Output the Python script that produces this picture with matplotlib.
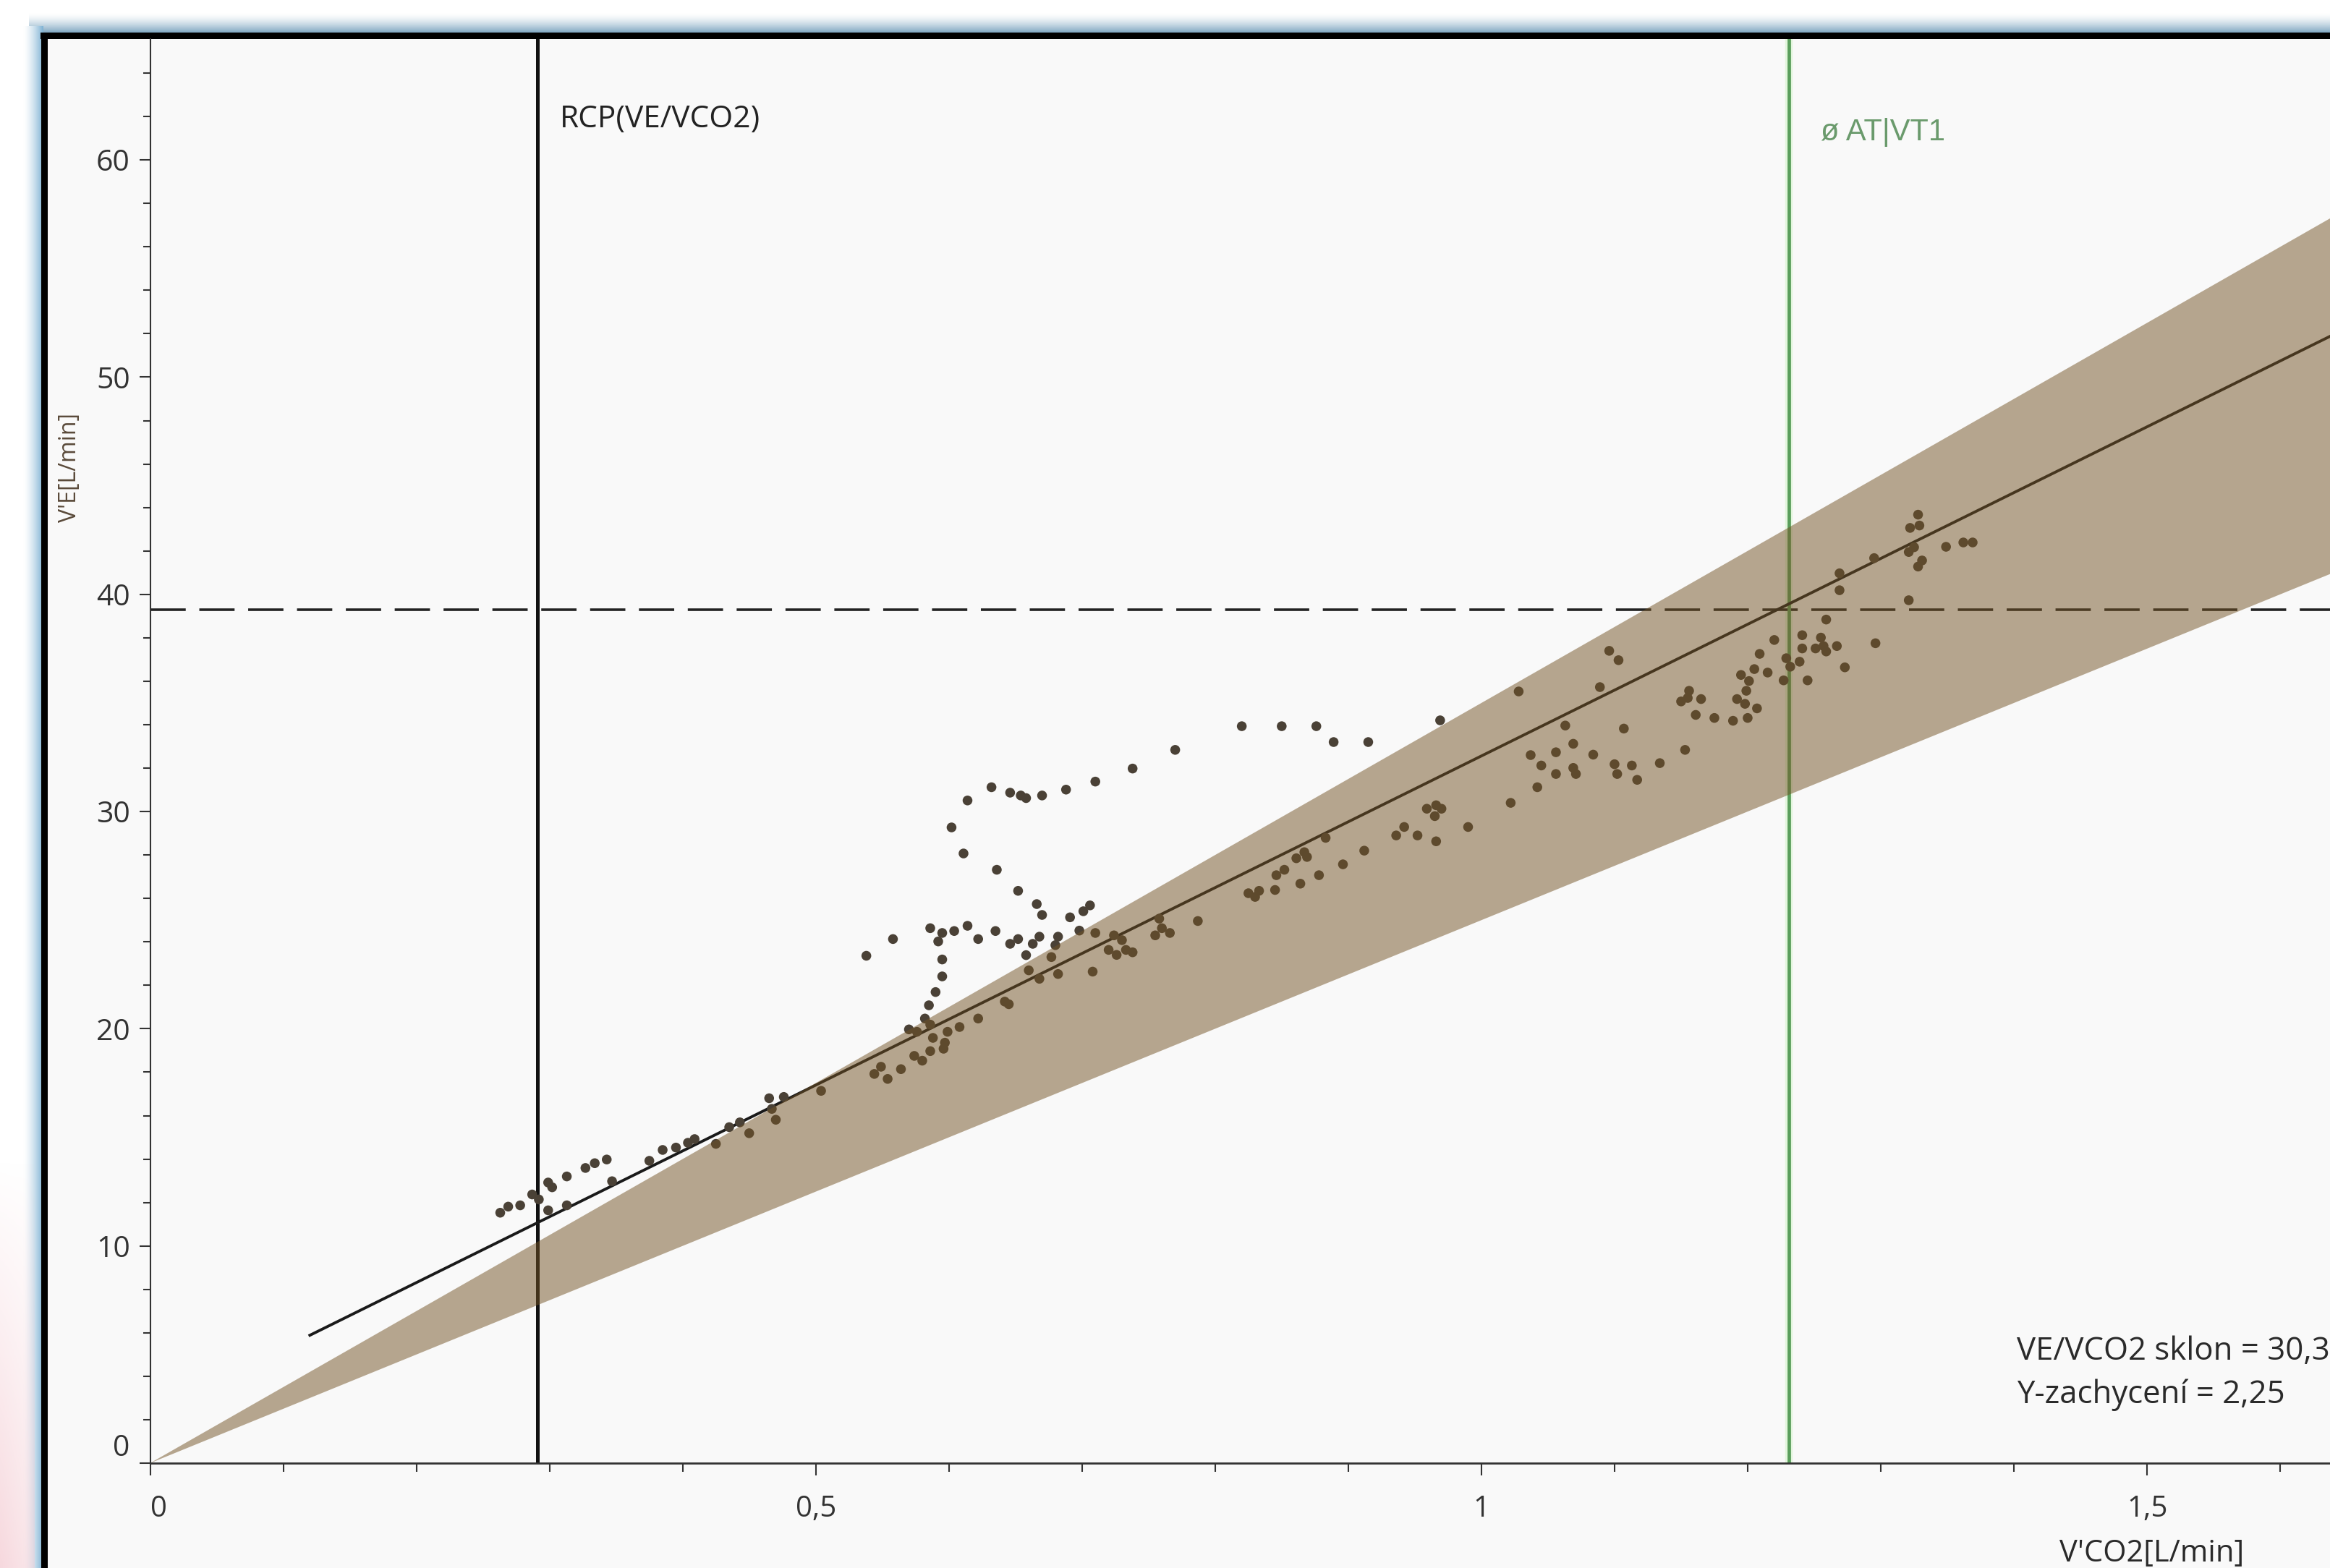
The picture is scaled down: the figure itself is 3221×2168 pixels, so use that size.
import numpy as np
import matplotlib
matplotlib.use("Agg")
import matplotlib.pyplot as plt
from matplotlib.patches import Rectangle
from matplotlib.ticker import FixedLocator, FixedFormatter, MultipleLocator

# breath samples: V'CO2 [L/min] and V'E [L/min]
vco2 = [
    0.263, 0.269, 0.278, 0.287, 0.292, 0.299, 0.302, 0.299, 0.313, 0.313,
    0.327, 0.334, 0.343, 0.347, 0.375, 0.385, 0.395, 0.404, 0.409, 0.425,
    0.435, 0.443, 0.450, 0.465, 0.476, 0.467, 0.470, 0.504,
    0.538, 0.558, 0.586, 0.595, 0.604, 0.592, 0.614, 0.622, 0.635, 0.646,
    0.652, 0.658, 0.666, 0.670, 0.663, 0.668, 0.682, 0.680, 0.691, 0.701,
    0.706, 0.698, 0.710, 0.677, 0.660, 0.668, 0.682, 0.708, 0.724, 0.720,
    0.726, 0.733, 0.738, 0.730, 0.755, 0.758, 0.760, 0.766, 0.787,
    0.614, 0.632, 0.646, 0.654, 0.658, 0.670, 0.688, 0.710, 0.738, 0.602,
    0.611, 0.636, 0.652,
    0.595, 0.595, 0.590, 0.585, 0.582,
    0.570, 0.576, 0.586, 0.588, 0.599, 0.608, 0.597, 0.586, 0.596, 0.574,
    0.580, 0.564, 0.549, 0.544, 0.554, 0.622, 0.642, 0.645,
    0.770, 0.820, 0.850, 0.876, 0.889, 0.915, 0.969, 1.028,
    0.825, 0.833, 0.830, 0.845, 0.846, 0.852, 0.864, 0.861, 0.867, 0.869,
    0.878, 0.883, 0.896, 0.912, 0.936, 0.942, 0.952, 0.959, 0.966, 0.970,
    0.965, 0.966, 0.990, 1.022, 1.037,
    1.042, 1.045, 1.056, 1.056, 1.063, 1.069, 1.069, 1.071, 1.084, 1.089,
    1.096, 1.103, 1.100, 1.102, 1.107, 1.113, 1.117, 1.134, 1.153, 1.150,
    1.156, 1.155, 1.165, 1.161, 1.175, 1.189, 1.200, 1.192, 1.198, 1.207,
    1.199, 1.201, 1.195, 1.205, 1.215, 1.209, 1.220, 1.227, 1.229, 1.232,
    1.239, 1.241, 1.241, 1.245, 1.251, 1.255, 1.257, 1.259, 1.259, 1.267,
    1.273, 1.269, 1.269,
    1.295, 1.296, 1.321, 1.322, 1.328, 1.329, 1.321, 1.325, 1.331, 1.328,
    1.349, 1.362, 1.369,
]
ve = [
    11.53, 11.81, 11.87, 12.37, 12.14, 12.92, 12.70, 11.64, 11.87, 13.20,
    13.59, 13.81, 13.98, 12.98, 13.92, 14.42, 14.53, 14.75, 14.92, 14.70,
    15.47, 15.69, 15.19, 16.80, 16.86, 16.31, 15.81, 17.14,
    23.36, 24.13, 24.63, 24.41, 24.50, 24.02, 24.74, 24.13, 24.50, 23.91,
    24.13, 23.39, 25.74, 25.24, 23.91, 24.24, 24.24, 23.85, 25.13, 25.41,
    25.68, 24.52, 24.41, 23.30, 22.69, 22.30, 22.52, 22.63, 24.30, 23.63,
    23.40, 23.63, 23.52, 24.08, 24.30, 25.07, 24.63, 24.41, 24.96,
    30.51, 31.12, 30.87, 30.74, 30.62, 30.74, 31.01, 31.38, 31.98, 29.27,
    28.07, 27.32, 26.35,
    23.19, 22.41, 21.69, 21.08, 20.47,
    19.97, 19.86, 20.19, 19.58, 19.86, 20.08, 19.36, 18.97, 19.08, 18.75,
    18.53, 18.14, 18.25, 17.92, 17.69, 20.47, 21.25, 21.13,
    32.84, 33.93, 33.93, 33.93, 33.20, 33.20, 34.20, 35.53,
    26.24, 26.35, 26.07, 26.39, 27.07, 27.32, 26.68, 27.85, 28.13, 27.91,
    27.07, 28.79, 27.57, 28.20, 28.90, 29.29, 28.90, 30.13, 30.29, 30.13,
    29.79, 28.63, 29.29, 30.40, 32.60,
    31.12, 32.12, 32.73, 31.73, 33.96, 33.12, 32.01, 31.73, 32.62, 35.73,
    37.40, 36.97, 32.18, 31.73, 33.82, 32.12, 31.46, 32.23, 32.84, 35.07,
    35.56, 35.23, 35.18, 34.45, 34.31, 34.18, 34.31, 35.18, 34.96, 34.75,
    35.56, 36.01, 36.29, 36.56, 36.40, 37.26, 37.90, 36.04, 37.06, 36.67,
    36.90, 37.51, 38.12, 36.04, 37.51, 38.01, 37.62, 37.37, 38.84, 37.62,
    36.64, 40.97, 40.19,
    41.67, 37.75, 39.73, 43.06, 43.67, 43.17, 41.95, 42.17, 41.56, 41.28,
    42.19, 42.39, 42.39,
]

fit_slope = 30.31
fit_intercept = 2.25
fit_start = 0.12
band_slopes = [25.0, 35.0]
rcp_x = 0.291
at_x = 1.231
ve_at = 39.3

x_ticks = [0, 0.5, 1, 1.5]
x_tick_labels = ["0", "0,5", "1", "1,5"]
y_ticks = [0, 10, 20, 30, 40, 50, 60]

W, H = 3221, 2168
plt.rcParams['font.family'] = ['Open Sans', 'DejaVu Sans']
fig = plt.figure(figsize=(W / 100, H / 100), dpi=100)
fig.patch.set_facecolor('white')

# window frame behind the chart, drawn in pixel units
frame = fig.add_axes([0, 0, 1, 1], zorder=-10)
frame.set_xlim(0, W)
frame.set_ylim(H, 0)
frame.axis('off')

top_grad = 1 - np.linspace(0, 1, 40)[:, None, None] ** 1.5 * np.array([0.52, 0.36, 0.25])
frame.imshow(top_grad, extent=(40, W, 46, 18), aspect='auto', origin='upper')
left_grad = 1 - np.linspace(0, 1, 30)[None, :, None] ** 1.5 * np.array([0.50, 0.30, 0.17])
frame.imshow(left_grad, extent=(32, 60, H, 36), aspect='auto', origin='upper')
pink = np.zeros((60, 20, 4))
pink[..., 0], pink[..., 1], pink[..., 2] = 0.96, 0.80, 0.83
pink[..., 3] = np.linspace(0, 0.75, 60)[:, None] * np.linspace(1, 0.6, 20)[None, :]
frame.imshow(pink, extent=(0, 48, H, 1600), aspect='auto', origin='upper')
frame.add_patch(Rectangle((56, 45), W - 56, 9, color='black', lw=0))
frame.add_patch(Rectangle((57, 45), 9, H - 45, color='black', lw=0))
frame.add_patch(Rectangle((66, 54), W - 66, H - 54, color='#f9f9f9', lw=0))

# chart area: x=0 at px 207.5, 1840.4 px per L/min; y=0 at px 2023, 30.03 px per L/min
ax = fig.add_axes([207.5 / W, 1 - 2023 / H, (W - 207.5) / W, (2023 - 54) / H])
ax.set_facecolor('none')
ax.set_xlim(0, (W - 207.5) / 1840.4)
ax.set_ylim(0, (2023 - 54) / 30.03)

for side in ['top', 'right']:
    ax.spines[side].set_visible(False)
ax.spines['left'].set_color('#333333')
ax.spines['left'].set_linewidth(1.5)
ax.spines['bottom'].set_color('#333333')
ax.spines['bottom'].set_linewidth(2.0)

ax.xaxis.set_major_locator(FixedLocator(x_ticks))
ax.xaxis.set_major_formatter(FixedFormatter(x_tick_labels))
ax.xaxis.set_minor_locator(MultipleLocator(0.1))
ax.yaxis.set_major_locator(FixedLocator(y_ticks))
ax.yaxis.set_minor_locator(MultipleLocator(2))
ax.tick_params(axis='x', which='major', length=12, width=1.5, color='#333333',
               labelsize=29, labelcolor='#333333', pad=19)
ax.tick_params(axis='x', which='minor', length=8.5, width=1.5, color='#333333')
ax.tick_params(axis='y', which='major', length=11, width=1.5, color='#333333',
               labelsize=29.5, labelcolor='#333333', pad=9)
ax.tick_params(axis='y', which='minor', length=7, width=1.5, color='#333333')
fig.canvas.draw()
ax.get_yticklabels()[0].set_va('bottom')
ax.get_xticklabels()[0].set_ha('left')

ax.axhline(ve_at, color='#222222', lw=2.6, dashes=(13.5, 5.2), zorder=2)
ax.axvline(rcp_x, color='#111111', lw=3.6, zorder=2)
ax.axvline(at_x, color='#e2f6dc', lw=7.5, zorder=1.9)
ax.axvline(at_x, color='#5a9e5c', lw=3.4, zorder=2)

fit_x = np.array([fit_start, 1.8])
ax.plot(fit_x, fit_slope * fit_x + fit_intercept, color='#1a1a1a', lw=2.8, zorder=3)
ax.scatter(vco2, ve, s=95, color='#4a4136', edgecolors='none', zorder=3)

band_x = np.array([0, 1.8])
ax.fill_between(band_x, band_slopes[0] * band_x, band_slopes[1] * band_x,
                color='#735325', alpha=0.5, lw=0, zorder=4)

ax.text(rcp_x + 0.017, 61.87, "RCP(VE/VCO2)", fontsize=30.5, color='#222222',
        va='center', ha='left', zorder=6)
ax.text(at_x + 0.024, 61.27, "ø AT|VT1", fontsize=30, color='#6a9a6c',
        family=['Liberation Sans', 'DejaVu Sans'], va='center', ha='left', zorder=6)
# the reference cuts this line at the right edge as well
ax.text(1.402, 5.13, "VE/VCO2 sklon = 30,31", fontsize=31.5, color='#2a2a2a',
        va='center', ha='left', zorder=6)
ax.text(1.402, 3.13, "Y-zachycení = 2,25", fontsize=31.5, color='#2a2a2a',
        va='center', ha='left', zorder=6)

fig.text(2975 / W, 1 - 2147 / H, "V'CO2[L/min]", fontsize=30, color='#2a2a2a',
         ha='center', va='center')
fig.text(97 / W, 1 - 647 / H, "V'E[L/min]", fontsize=23, color='#5a4a3a',
         rotation=90, ha='center', va='center')

fig.savefig("out.png", dpi=100)
